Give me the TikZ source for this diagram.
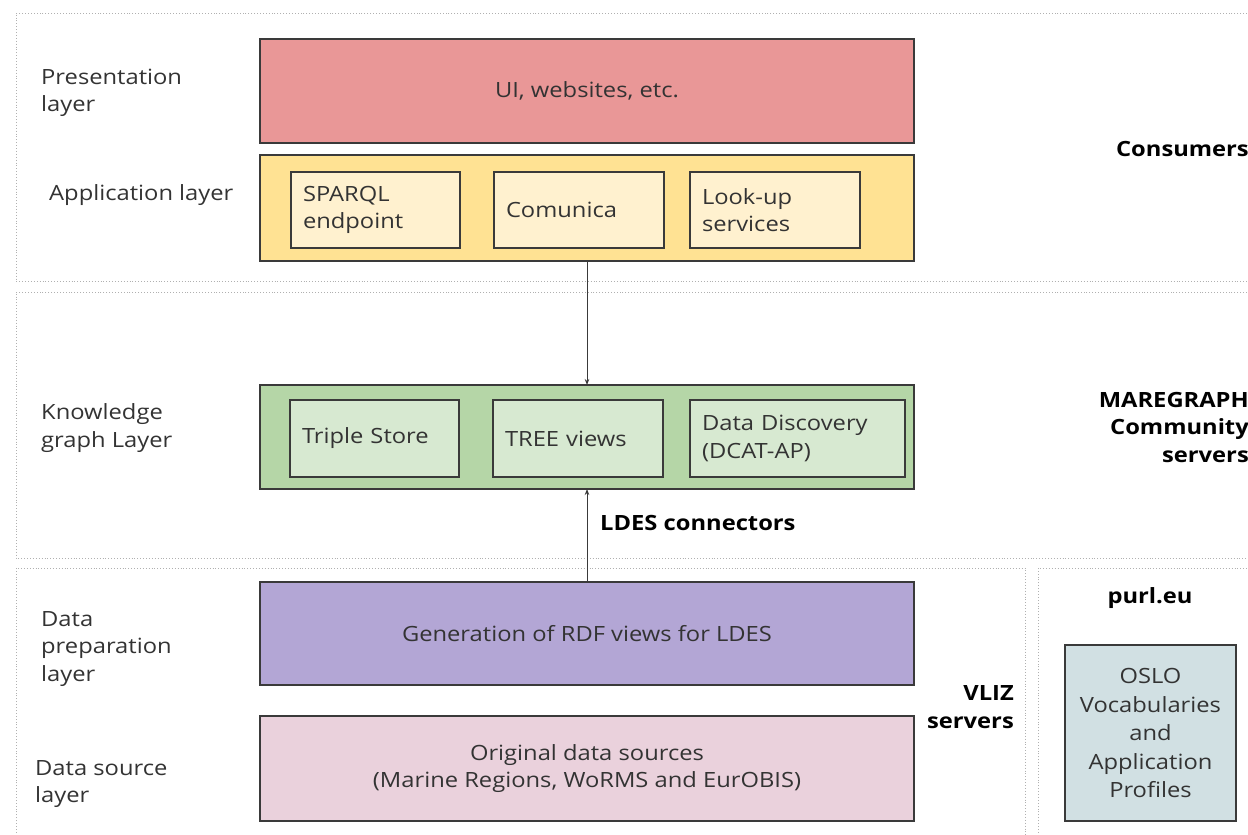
\documentclass[tikz,border=0pt]{standalone}
\usepackage{fontspec}
\setmainfont{Open Sans}[FakeStretch=1.13]
\usetikzlibrary{arrows.meta}
\definecolor{uired}{HTML}{E99797}
\definecolor{appyel}{HTML}{FFE293}
\definecolor{appin}{HTML}{FFF1CF}
\definecolor{kggreen}{HTML}{B5D6A7}
\definecolor{kgin}{HTML}{D7E9D1}
\definecolor{prep}{HTML}{B3A6D5}
\definecolor{srcpink}{HTML}{EAD1DC}
\definecolor{oslo}{HTML}{D1E0E3}
\definecolor{edge}{HTML}{3A3A3A}
\definecolor{txt}{HTML}{333333}
\definecolor{dots}{HTML}{B0B0B0}
\begin{document}
\begin{tikzpicture}[x=1pt,y=-1pt,
  region/.style={draw=dots, dotted, line width=0.9pt},
  layerbox/.style={draw=edge, line width=1.2pt, inner sep=0pt, outer sep=0pt,
    minimum width=654pt, text=txt, font=\fontsize{21}{27.5}\selectfont, align=center},
  innerbox/.style={draw=edge, line width=1.1pt, outer sep=0pt, inner xsep=12pt, inner ysep=0pt,
    text=txt, font=\fontsize{21}{27.5}\selectfont, align=left},
  lbl/.style={anchor=west, inner sep=0pt, text=txt, align=left, font=\fontsize{21}{27.5}\selectfont},
  blbl/.style={inner sep=0pt, text=black, font=\fontsize{21}{27.5}\selectfont\bfseries},
  conn/.style={draw=edge, line width=0.9pt, -{Stealth[length=6pt,width=4.5pt]}}
]
\useasboundingbox (0,0) rectangle (1248,835);
\clip (0,0) rectangle (1248,835);
\fill[white] (0,0) rectangle (1248,835);

% regions
\draw[region] (1270,13) -- (16,13) -- (16,281) -- (1270,281);
\draw[region] (1270,292) -- (16,292) -- (16,558) -- (1270,558);
\draw[region] (16,850) -- (16,568) -- (1025,568) -- (1025,850);
\draw[region] (1038,850) -- (1038,568) -- (1270,568);

% layer boxes
\node[layerbox, fill=uired, minimum height=104pt] (ui) at (587,91) {UI, websites, etc.};
\node[layerbox, fill=appyel, minimum height=106pt] (app) at (587,208) {};
\node[layerbox, fill=kggreen, minimum height=104pt] (kg) at (587,437) {};
\node[layerbox, fill=prep, minimum height=103pt] (prep) at (587,633.5) {Generation of RDF views for LDES};
\node[layerbox, fill=srcpink, minimum height=105pt] (src) at (587,768.5) {Original data sources\\(Marine Regions, WoRMS and EurOBIS)};

% inner boxes: application
\node[innerbox, fill=appin, text width=145pt, minimum height=76pt] (sparql) at (375.5,210) {SPARQL\\endpoint};
\node[innerbox, fill=appin, text width=146pt, minimum height=76pt] (comunica) at (579,210) {Comunica};
\node[innerbox, fill=appin, text width=146pt, minimum height=76pt] (lookup) at (775,210) {Look-up\\services};

% inner boxes: knowledge graph
\node[innerbox, fill=kgin, text width=145pt, minimum height=77pt] (triple) at (374.5,438.5) {Triple Store};
\node[innerbox, fill=kgin, text width=146pt, minimum height=77pt] (tree) at (578,438.5) {TREE views};
\node[innerbox, fill=kgin, text width=191pt, minimum height=77pt] (dcat) at (797.5,438.5) {Data Discovery\\(DCAT-AP)};

% OSLO box
\node[draw=edge, line width=1.2pt, fill=oslo, inner sep=0pt, minimum width=171pt, minimum height=176pt,
  text=txt, align=center, font=\fontsize{21}{28.5}\selectfont] (osloBox) at (1150.5,733) {OSLO\\Vocabularies\\and\\Application\\Profiles};

% connectors
\draw[conn] (app.south) -- (kg.north);
\draw[conn] (prep.north) -- (kg.south);

% left labels
\node[lbl] (lpres) at (41,93) {Presentation\\layer};
\node[lbl] (lapp) at (49,195) {Application layer};
\node[lbl] (lkg) at (41,428) {Knowledge\\graph Layer};
\node[lbl] (lprep) at (41,649) {Data\\preparation\\layer};
\node[lbl] (lsrc) at (35,784) {Data source\\layer};

% right labels
\node[blbl, anchor=east] (consumers) at (1249,149) {Consumers};
\node[blbl, anchor=east, align=right] (maregraph) at (1249,427) {MAREGRAPH\\Community\\servers};
\node[blbl, anchor=east, align=right] (vliz) at (1014,707) {VLIZ\\servers};
\node[blbl] (purl) at (1150,598) {purl.eu};
\node[blbl, anchor=west] (ldes) at (600,523) {LDES connectors};
\end{tikzpicture}
\end{document}
